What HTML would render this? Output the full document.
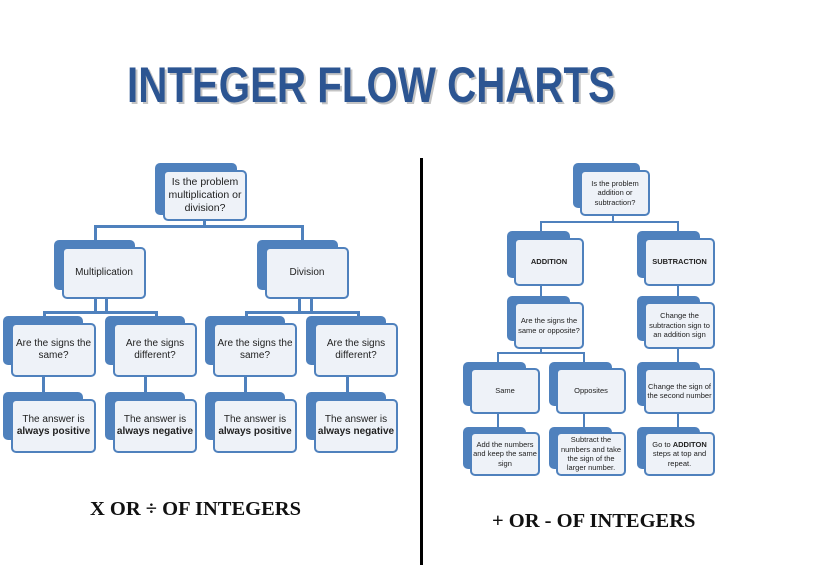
<!DOCTYPE html>
<html><head><meta charset="utf-8"><style>
body{margin:0;background:#fff;}
#c{position:relative;width:819px;height:565px;overflow:hidden;background:#fff;font-family:"Liberation Sans",sans-serif;}
.b{position:absolute;background:#4f81bd;border-radius:5px;}
.f{position:absolute;background:#eef2f8;border:2.5px solid #4f81bd;border-radius:5px;box-sizing:border-box;display:flex;align-items:center;justify-content:center;text-align:center;color:#222;line-height:1.25;}
.l{position:absolute;background:#4f81bd;}
.cap{position:absolute;font-family:"Liberation Serif",serif;font-weight:bold;font-size:20.5px;color:#111;}
</style></head><body><div id="c">
<svg style="position:absolute;left:0;top:0" width="819" height="130">
<text x="129" y="104" textLength="488" lengthAdjust="spacingAndGlyphs" font-family="Liberation Sans" font-weight="bold" font-size="50" fill="#c4c4c4">INTEGER FLOW CHARTS</text>
<text x="127" y="102" textLength="488" lengthAdjust="spacingAndGlyphs" font-family="Liberation Sans" font-weight="bold" font-size="50" fill="#2c5592">INTEGER FLOW CHARTS</text>
</svg>
<div style="position:absolute;left:420px;top:158px;width:3px;height:407px;background:#000"></div>

<!-- left connectors -->
<div class="l" style="left:203px;top:218px;width:3px;height:9px"></div>
<div class="l" style="left:94px;top:225px;width:210px;height:3px"></div>
<div class="l" style="left:94px;top:225px;width:3px;height:16px"></div>
<div class="l" style="left:301px;top:225px;width:3px;height:16px"></div>
<div class="l" style="left:94px;top:297px;width:3px;height:16px"></div>
<div class="l" style="left:105px;top:297px;width:3px;height:16px"></div>
<div class="l" style="left:43px;top:311px;width:115px;height:3px"></div>
<div class="l" style="left:43px;top:311px;width:3px;height:7px"></div>
<div class="l" style="left:155px;top:311px;width:3px;height:7px"></div>
<div class="l" style="left:298px;top:297px;width:3px;height:16px"></div>
<div class="l" style="left:310px;top:297px;width:3px;height:16px"></div>
<div class="l" style="left:245px;top:311px;width:115px;height:3px"></div>
<div class="l" style="left:245px;top:311px;width:3px;height:7px"></div>
<div class="l" style="left:357px;top:311px;width:3px;height:7px"></div>
<div class="l" style="left:42px;top:375px;width:3px;height:19px"></div>
<div class="l" style="left:144px;top:375px;width:3px;height:19px"></div>
<div class="l" style="left:244px;top:375px;width:3px;height:19px"></div>
<div class="l" style="left:346px;top:375px;width:3px;height:19px"></div>

<!-- left nodes -->
<div class="b" style="left:155px;top:163px;width:82px;height:52px"></div>
<div class="f" style="left:163px;top:170px;width:84px;height:51px;font-size:10.5px"><span>Is the problem multiplication or division?</span></div>
<div class="b" style="left:54px;top:240px;width:81px;height:50px"></div>
<div class="f" style="left:62px;top:247px;width:84px;height:52px;font-size:10px"><span>Multiplication</span></div>
<div class="b" style="left:257px;top:240px;width:81px;height:50px"></div>
<div class="f" style="left:265px;top:247px;width:84px;height:52px;font-size:10px"><span>Division</span></div>

<div class="b" style="left:3px;top:316px;width:80px;height:49px"></div>
<div class="f" style="left:11px;top:323px;width:85px;height:54px;font-size:10px"><span>Are the signs the same?</span></div>
<div class="b" style="left:105px;top:316px;width:80px;height:49px"></div>
<div class="f" style="left:113px;top:323px;width:84px;height:54px;font-size:10px"><span>Are the signs different?</span></div>
<div class="b" style="left:205px;top:316px;width:80px;height:49px"></div>
<div class="f" style="left:213px;top:323px;width:84px;height:54px;font-size:10px"><span>Are the signs the same?</span></div>
<div class="b" style="left:306px;top:316px;width:80px;height:49px"></div>
<div class="f" style="left:314px;top:323px;width:84px;height:54px;font-size:10px"><span>Are the signs different?</span></div>

<div class="b" style="left:3px;top:392px;width:80px;height:48px"></div>
<div class="f" style="left:11px;top:399px;width:85px;height:54px;font-size:10px"><span>The answer is<br><b>always positive</b></span></div>
<div class="b" style="left:105px;top:392px;width:80px;height:48px"></div>
<div class="f" style="left:113px;top:399px;width:84px;height:54px;font-size:10px"><span>The answer is<br><b>always negative</b></span></div>
<div class="b" style="left:205px;top:392px;width:80px;height:48px"></div>
<div class="f" style="left:213px;top:399px;width:84px;height:54px;font-size:10px"><span>The answer is<br><b>always positive</b></span></div>
<div class="b" style="left:306px;top:392px;width:80px;height:48px"></div>
<div class="f" style="left:314px;top:399px;width:84px;height:54px;font-size:10px"><span>The answer is<br><b>always negative</b></span></div>

<!-- right connectors -->
<div class="l" style="left:612px;top:214px;width:2px;height:8px"></div>
<div class="l" style="left:540px;top:221px;width:139px;height:2px"></div>
<div class="l" style="left:540px;top:221px;width:2px;height:12px"></div>
<div class="l" style="left:677px;top:221px;width:2px;height:12px"></div>
<div class="l" style="left:540px;top:284px;width:2px;height:14px"></div>
<div class="l" style="left:677px;top:284px;width:2px;height:14px"></div>
<div class="l" style="left:540px;top:347px;width:2px;height:6px"></div>
<div class="l" style="left:497px;top:352px;width:88px;height:2px"></div>
<div class="l" style="left:497px;top:352px;width:2px;height:12px"></div>
<div class="l" style="left:583px;top:352px;width:2px;height:12px"></div>
<div class="l" style="left:677px;top:347px;width:2px;height:17px"></div>
<div class="l" style="left:497px;top:412px;width:2px;height:17px"></div>
<div class="l" style="left:583px;top:412px;width:2px;height:17px"></div>
<div class="l" style="left:677px;top:412px;width:2px;height:17px"></div>

<!-- right nodes -->
<div class="b" style="left:573px;top:163px;width:67px;height:45px"></div>
<div class="f" style="left:580px;top:170px;width:70px;height:46px;font-size:7.5px"><span>Is the problem addition or subtraction?</span></div>
<div class="b" style="left:507px;top:231px;width:63px;height:47px"></div>
<div class="f" style="left:514px;top:238px;width:70px;height:48px;font-size:7.5px;font-weight:bold"><span>ADDITION</span></div>
<div class="b" style="left:637px;top:231px;width:63px;height:47px"></div>
<div class="f" style="left:644px;top:238px;width:71px;height:48px;font-size:7.5px;font-weight:bold"><span>SUBTRACTION</span></div>
<div class="b" style="left:507px;top:296px;width:63px;height:45px"></div>
<div class="f" style="left:514px;top:302px;width:70px;height:47px;font-size:7.5px"><span>Are the signs the same or opposite?</span></div>
<div class="b" style="left:637px;top:296px;width:63px;height:45px"></div>
<div class="f" style="left:644px;top:302px;width:71px;height:47px;font-size:7.5px"><span>Change the subtraction sign to an addition sign</span></div>
<div class="b" style="left:463px;top:362px;width:63px;height:44px"></div>
<div class="f" style="left:470px;top:368px;width:70px;height:46px;font-size:7.5px"><span>Same</span></div>
<div class="b" style="left:549px;top:362px;width:63px;height:44px"></div>
<div class="f" style="left:556px;top:368px;width:70px;height:46px;font-size:7.5px"><span>Opposites</span></div>
<div class="b" style="left:637px;top:362px;width:63px;height:44px"></div>
<div class="f" style="left:644px;top:368px;width:71px;height:46px;font-size:7.5px"><span>Change the sign of the second number</span></div>
<div class="b" style="left:463px;top:427px;width:63px;height:42px"></div>
<div class="f" style="left:470px;top:432px;width:70px;height:44px;font-size:7.5px"><span>Add the numbers and keep the same sign</span></div>
<div class="b" style="left:549px;top:427px;width:63px;height:42px"></div>
<div class="f" style="left:556px;top:432px;width:70px;height:44px;font-size:7.5px"><span>Subtract the numbers and take the sign of the larger number.</span></div>
<div class="b" style="left:637px;top:427px;width:63px;height:42px"></div>
<div class="f" style="left:644px;top:432px;width:71px;height:44px;font-size:7.5px"><span>Go to <b>ADDITON</b> steps at top and repeat.</span></div>

<div class="cap" style="left:90px;top:498px">X OR ÷ OF INTEGERS</div>
<div class="cap" style="left:492px;top:510px">+ OR - OF INTEGERS</div>
</div></body></html>
